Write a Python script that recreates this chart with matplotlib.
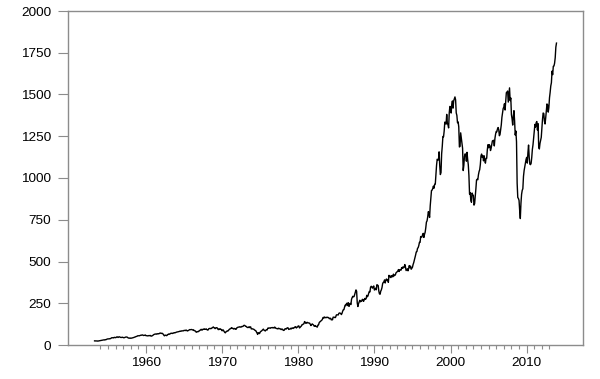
import numpy as np
import matplotlib
matplotlib.use("Agg")
import matplotlib.pyplot as plt

# Monthly S&P 500 level, first month = April 1953
start_year = 1953
start_month = 4

sp_1953_1959 = [
    24.7, 24.8, 24.0, 24.3, 24.4, 23.3, 24.0, 24.5, 24.8,
    26.1, 26.2, 26.9, 28.3, 29.2, 29.2, 30.9, 29.8, 32.3, 31.7, 34.2, 36.0,
    36.6, 36.8, 36.6, 38.0, 37.9, 41.0, 43.5, 43.2, 43.7, 42.3, 45.5, 45.5,
    43.8, 45.3, 48.5, 48.4, 45.2, 47.0, 49.4, 47.5, 45.4, 45.6, 45.1, 46.7,
    44.7, 43.3, 44.1, 45.7, 47.4, 47.4, 47.9, 45.2, 42.4, 41.1, 41.7, 40.0,
    41.7, 40.8, 42.1, 43.4, 44.1, 45.2, 47.2, 48.0, 50.1, 51.3, 52.5, 55.2,
    55.4, 55.4, 55.4, 57.6, 58.7, 58.5, 60.5, 59.6, 56.9, 57.5, 58.3, 59.9,
]
sp_1960s = [
    55.6, 56.1, 55.3, 54.4, 55.8, 56.9, 55.5, 57.0, 53.5, 53.4, 55.5, 58.1,
    61.8, 63.4, 65.1, 65.3, 66.6, 64.6, 66.8, 68.1, 66.7, 68.6, 71.3, 71.6,
    68.8, 70.0, 69.6, 65.2, 59.6, 54.8, 58.2, 59.1, 56.3, 56.5, 62.3, 63.1,
    66.2, 64.3, 66.6, 69.8, 70.8, 69.4, 69.1, 72.5, 71.7, 74.0, 73.2, 75.0,
    77.0, 77.8, 79.0, 79.5, 80.4, 81.7, 83.2, 81.8, 84.2, 84.9, 84.4, 84.8,
    87.6, 87.4, 86.2, 89.1, 88.4, 84.1, 85.3, 87.2, 90.0, 92.4, 91.6, 92.4,
    92.9, 91.2, 89.2, 91.1, 86.1, 84.7, 83.6, 77.1, 76.6, 80.2, 80.5, 80.3,
    86.6, 86.8, 90.2, 94.0, 89.1, 90.6, 94.8, 93.6, 96.7, 93.9, 94.0, 96.5,
    92.2, 89.4, 90.2, 97.6, 98.7, 99.6, 97.7, 98.9, 102.7, 103.4, 108.4, 103.9,
    103.0, 98.1, 101.5, 103.7, 103.5, 97.7, 91.8, 95.5, 93.1, 97.1, 93.8, 92.1,
]
sp_1970s = [
    85.0, 89.5, 89.6, 81.5, 76.6, 72.7, 78.1, 81.5, 84.3, 83.3, 87.2, 92.2,
    95.9, 96.8, 100.3, 104.0, 99.6, 99.7, 95.6, 99.0, 98.3, 94.2, 94.0, 102.1,
    103.9, 106.6, 107.2, 107.7, 109.5, 107.1, 107.4, 111.1, 110.6, 111.6, 116.7, 118.1,
    116.0, 111.7, 111.5, 107.0, 105.0, 104.3, 108.2, 104.3, 108.4, 108.3, 96.0, 97.6,
    96.6, 96.2, 94.0, 90.3, 87.3, 86.0, 79.3, 72.2, 63.5, 73.9, 70.0, 68.6,
    77.0, 81.6, 83.4, 87.3, 91.2, 95.2, 88.8, 86.9, 83.9, 89.0, 91.2, 90.2,
    100.9, 99.7, 102.8, 101.6, 100.2, 104.3, 103.4, 102.9, 105.2, 102.9, 102.1, 107.5,
    102.0, 99.8, 98.4, 98.4, 96.1, 100.5, 98.9, 96.8, 96.5, 92.3, 94.8, 95.1,
    89.3, 87.0, 89.2, 96.8, 97.2, 95.5, 100.7, 103.3, 102.5, 93.2, 94.7, 96.1,
    99.9, 96.3, 101.6, 101.8, 99.1, 102.9, 103.8, 109.3, 109.3, 101.8, 106.2, 107.9,
]
sp_1980s = [
    114.2, 113.7, 102.1, 106.3, 111.2, 114.2, 121.7, 122.4, 125.5, 127.5, 140.5, 135.8,
    129.6, 131.3, 136.0, 132.8, 132.6, 131.2, 130.9, 122.8, 116.2, 121.9, 126.4, 122.6,
    120.4, 113.1, 112.0, 116.4, 111.9, 109.6, 107.1, 119.5, 120.4, 133.7, 138.5, 140.6,
    145.3, 148.1, 153.0, 164.4, 162.4, 168.1, 162.6, 164.4, 166.1, 163.6, 166.4, 164.9,
    163.4, 157.1, 159.2, 160.1, 150.6, 153.2, 150.7, 166.7, 166.1, 166.1, 163.6, 167.2,
    179.6, 181.2, 180.7, 179.8, 189.6, 191.9, 190.9, 188.6, 182.1, 189.8, 202.2, 211.3,
    211.8, 226.9, 238.9, 235.5, 247.4, 250.8, 236.1, 252.9, 231.3, 244.0, 249.2, 242.2,
    274.1, 284.2, 291.7, 288.4, 290.1, 304.0, 318.7, 329.8, 321.8, 251.8, 230.3, 247.1,
    257.1, 267.8, 258.9, 261.3, 262.2, 273.5, 272.0, 261.5, 271.9, 279.0, 273.7, 277.7,
    297.5, 288.9, 294.9, 309.6, 320.5, 318.0, 346.1, 351.5, 349.2, 340.4, 346.0, 353.4,
]
sp_1990s = [
    329.1, 331.9, 339.9, 330.8, 361.2, 358.0, 356.2, 322.6, 306.1, 304.0, 322.2, 330.2,
    343.9, 367.1, 375.2, 375.3, 389.8, 371.2, 387.8, 395.4, 387.9, 392.5, 375.2, 417.1,
    408.8, 412.7, 403.7, 415.0, 415.4, 408.1, 424.2, 414.0, 417.8, 418.7, 431.4, 435.7,
    438.8, 443.4, 451.7, 440.2, 450.2, 450.5, 448.1, 463.6, 458.9, 467.8, 461.8, 466.5,
    481.6, 467.1, 445.8, 450.9, 456.5, 444.3, 458.3, 475.5, 462.7, 472.4, 453.7, 459.3,
    465.3, 481.9, 493.2, 507.9, 523.8, 539.4, 557.4, 559.1, 578.8, 582.9, 595.5, 614.6,
    614.4, 649.5, 647.1, 647.2, 661.2, 668.5, 644.1, 662.7, 674.9, 701.5, 735.7, 743.3,
    766.2, 798.4, 792.2, 763.9, 833.1, 876.3, 925.3, 927.7, 937.0, 951.2, 938.9, 962.4,
    963.4, 1023.7, 1076.8, 1112.2, 1108.4, 1108.4, 1156.6, 1074.6, 1020.6, 1032.5, 1144.4, 1190.1,
    1248.8, 1246.6, 1281.7, 1334.8, 1332.1, 1322.6, 1381.0, 1327.5, 1318.2, 1300.0, 1391.0, 1428.7,
]
sp_2000s = [
    1425.6, 1388.9, 1442.2, 1461.4, 1418.5, 1462.0, 1473.0, 1485.5, 1468.1, 1390.1, 1375.0, 1330.9,
    1335.6, 1305.8, 1185.9, 1189.8, 1270.4, 1238.7, 1204.5, 1178.5, 1044.6, 1076.6, 1129.7, 1144.9,
    1140.2, 1100.7, 1153.8, 1112.0, 1079.3, 1014.1, 903.6, 912.6, 867.8, 854.6, 909.9, 899.2,
    895.8, 837.6, 846.6, 890.0, 936.0, 988.0, 992.5, 989.5, 1019.4, 1038.7, 1049.9, 1080.6,
    1132.5, 1143.4, 1124.0, 1133.1, 1102.8, 1132.8, 1105.9, 1088.9, 1117.7, 1118.1, 1168.9, 1199.2,
    1181.4, 1199.6, 1194.9, 1164.4, 1178.3, 1202.3, 1222.2, 1224.3, 1225.9, 1192.0, 1237.4, 1262.1,
    1278.7, 1276.7, 1293.7, 1302.2, 1290.0, 1253.1, 1260.2, 1287.2, 1317.8, 1363.4, 1388.6, 1416.4,
    1424.2, 1444.8, 1407.0, 1463.7, 1511.1, 1514.5, 1520.7, 1454.6, 1497.1, 1539.7, 1463.4, 1479.2,
    1378.8, 1354.9, 1316.9, 1370.5, 1403.2, 1341.3, 1257.3, 1281.5, 1217.0, 968.8, 883.0, 877.6,
    865.6, 805.2, 757.1, 848.2, 902.4, 926.1, 935.8, 1009.7, 1044.6, 1067.7, 1088.1, 1110.4,
]
sp_2010s = [
    1123.6, 1089.2, 1152.1, 1197.3, 1125.1, 1083.4, 1079.8, 1087.3, 1122.1, 1171.6, 1198.9, 1241.5,
    1282.6, 1321.1, 1304.5, 1331.5, 1338.3, 1287.3, 1325.2, 1185.3, 1173.9, 1207.2, 1226.4, 1243.3,
    1300.6, 1352.5, 1389.2, 1386.4, 1341.3, 1323.5, 1359.8, 1403.4, 1443.4, 1437.8, 1394.5, 1422.3,
    1480.4, 1512.3, 1550.8, 1570.7, 1639.8, 1618.8, 1668.7, 1670.1, 1687.2, 1720.0, 1783.5, 1807.8,
]

y_ticks = [0, 250, 500, 750, 1000, 1250, 1500, 1750, 2000]
x_major = [1960, 1970, 1980, 1990, 2000, 2010]

values = np.array(sp_1953_1959 + sp_1960s + sp_1970s + sp_1980s
                  + sp_1990s + sp_2000s + sp_2010s)
t = start_year + (start_month - 1) / 12 + np.arange(len(values)) / 12

plt.rcParams['font.family'] = ['Liberation Sans', 'DejaVu Sans']

fig = plt.figure(figsize=(6.0, 3.79), dpi=100)
ax = fig.add_axes([68 / 600, 34 / 379, 515 / 600, 334 / 379])

ax.plot(t, values, color='black', lw=1.0)

ax.set_xlim(1949.76, 2017.4)
ax.set_ylim(0, 2000)

grey = '#8c8c8c'
for s in ax.spines.values():
    s.set_color(grey)
    s.set_linewidth(1.0)

ax.set_yticks(y_ticks)
ax.set_yticklabels([str(v) for v in y_ticks])
ax.set_xticks(x_major)
ax.set_xticklabels([str(v) for v in x_major])
years = np.arange(int(np.ceil(t[0])), int(np.floor(t[-1])) + 1)
ax.set_xticks([y for y in years if y not in x_major], minor=True)

ax.tick_params(axis='y', which='major', direction='out', length=7, width=0.8,
               color=grey, labelsize=9.7, pad=5)
ax.tick_params(axis='x', which='major', direction='out', length=6, width=0.8,
               color=grey, labelsize=9.7, pad=3)
ax.tick_params(axis='x', which='minor', direction='out', length=3, width=0.8,
               color=grey)

fig.savefig('out.png', dpi=100)
